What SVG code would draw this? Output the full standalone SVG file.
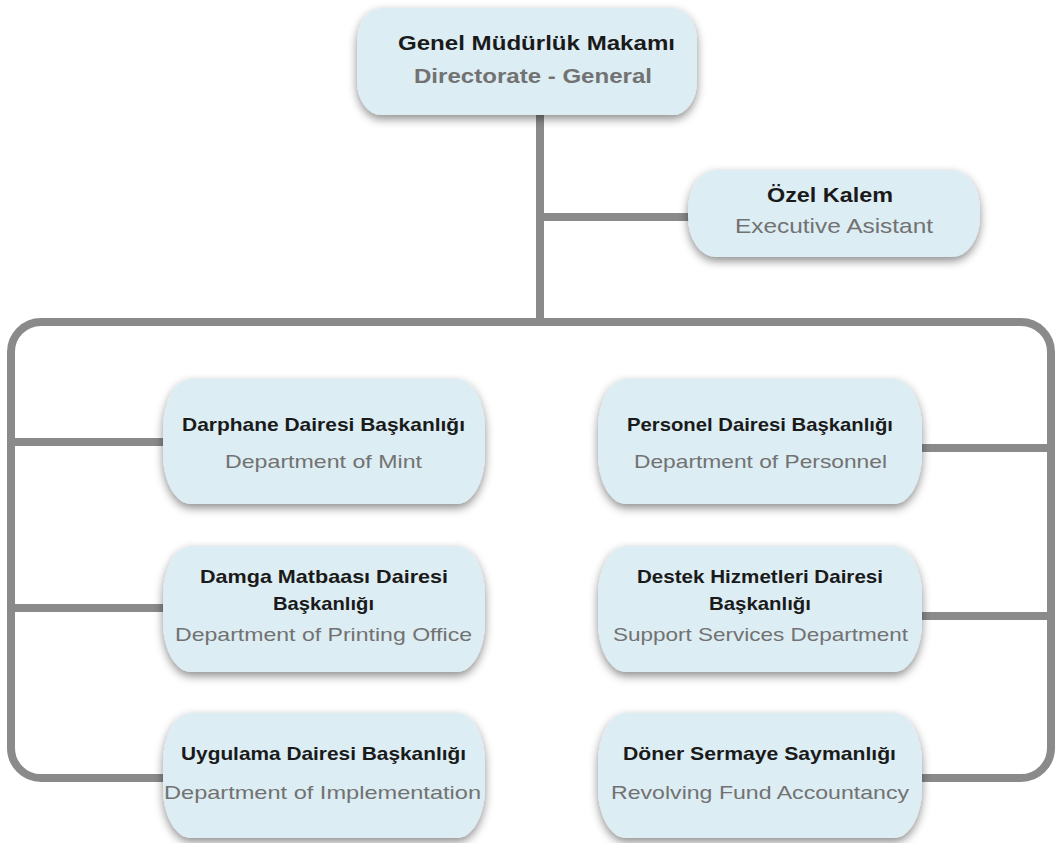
<svg xmlns="http://www.w3.org/2000/svg" width="1055" height="843" viewBox="0 0 1055 843">
<defs>
<filter id="sh" x="-20%" y="-30%" width="140%" height="170%">
<feDropShadow dx="0" dy="4" stdDeviation="5" flood-color="#000" flood-opacity="0.45"/>
</filter>
<style>
.box{fill:#dcedf3;filter:url(#sh)}
.ln{fill:none;stroke:#8a8a8a;stroke-width:8}
.t{font-family:"Liberation Sans",Arial,sans-serif;font-weight:bold;fill:#1a1a1a;text-anchor:middle;font-size:19px}
.s{font-family:"Liberation Sans",Arial,sans-serif;fill:#727272;text-anchor:middle;font-size:19px}
.tb{font-size:21px}
.sb{font-size:21px;font-weight:bold}
</style>
</defs>
<rect width="1055" height="843" fill="#ffffff"/>
<g id="connectors">
<line class="ln" x1="540" y1="110" x2="540" y2="322"/>
<line class="ln" x1="540" y1="217" x2="690" y2="217"/>
<path class="ln" d="M 165 778 H 41 A 30 30 0 0 1 11 748 V 352 A 30 30 0 0 1 41 322 H 1021 A 30 30 0 0 1 1051 352 V 748 A 30 30 0 0 1 1021 778 H 920"/>
<line class="ln" x1="11" y1="442" x2="165" y2="442"/>
<line class="ln" x1="11" y1="608" x2="165" y2="608"/>
<line class="ln" x1="920" y1="448" x2="1051" y2="448"/>
<line class="ln" x1="920" y1="616" x2="1051" y2="616"/>
</g>
<g id="n-genel">
<rect class="box" x="357" y="8" width="340" height="107" rx="24" ry="34"/>
<text class="t tb" x="536.5" y="50" textLength="277" lengthAdjust="spacingAndGlyphs">Genel Müdürlük Makamı</text>
<text class="s sb" x="533" y="83" textLength="238" lengthAdjust="spacingAndGlyphs">Directorate - General</text>
</g>
<g id="n-ozel">
<rect class="box" x="688" y="170" width="292" height="87" rx="28" ry="40"/>
<text class="t tb" x="830" y="202" textLength="126" lengthAdjust="spacingAndGlyphs">Özel Kalem</text>
<text class="s" x="834" y="233" style="font-size:21px" textLength="198" lengthAdjust="spacingAndGlyphs">Executive Asistant</text>
</g>
<g id="n-darphane">
<rect class="box" x="163" y="379" width="322" height="125" rx="28" ry="50"/>
<text class="t" x="323.5" y="431" textLength="283" lengthAdjust="spacingAndGlyphs">Darphane Dairesi Başkanlığı</text>
<text class="s" x="323.5" y="468" textLength="197" lengthAdjust="spacingAndGlyphs">Department of Mint</text>
</g>
<g id="n-damga">
<rect class="box" x="163" y="546" width="322" height="126" rx="28" ry="50"/>
<text class="t" x="324" y="583" textLength="248" lengthAdjust="spacingAndGlyphs">Damga Matbaası Dairesi</text>
<text class="t" x="323.5" y="610" textLength="101" lengthAdjust="spacingAndGlyphs">Başkanlığı</text>
<text class="s" x="323.5" y="641" textLength="297" lengthAdjust="spacingAndGlyphs">Department of Printing Office</text>
</g>
<g id="n-uygulama">
<rect class="box" x="163" y="713" width="322" height="125" rx="28" ry="50"/>
<text class="t" x="323.5" y="760" textLength="285" lengthAdjust="spacingAndGlyphs">Uygulama Dairesi Başkanlığı</text>
<text class="s" x="322.5" y="799" textLength="317" lengthAdjust="spacingAndGlyphs">Department of Implementation</text>
</g>
<g id="n-personel">
<rect class="box" x="598" y="379" width="324" height="125" rx="28" ry="50"/>
<text class="t" x="760" y="431" textLength="266" lengthAdjust="spacingAndGlyphs">Personel Dairesi Başkanlığı</text>
<text class="s" x="760.5" y="468" textLength="253" lengthAdjust="spacingAndGlyphs">Department of Personnel</text>
</g>
<g id="n-destek">
<rect class="box" x="598" y="546" width="324" height="126" rx="28" ry="50"/>
<text class="t" x="760" y="583" textLength="246" lengthAdjust="spacingAndGlyphs">Destek Hizmetleri Dairesi</text>
<text class="t" x="760" y="610" textLength="102" lengthAdjust="spacingAndGlyphs">Başkanlığı</text>
<text class="s" x="760.5" y="641" textLength="295" lengthAdjust="spacingAndGlyphs">Support Services Department</text>
</g>
<g id="n-doner">
<rect class="box" x="598" y="713" width="324" height="125" rx="28" ry="50"/>
<text class="t" x="759.5" y="760" textLength="273" lengthAdjust="spacingAndGlyphs">Döner Sermaye Saymanlığı</text>
<text class="s" x="760" y="799" textLength="298" lengthAdjust="spacingAndGlyphs">Revolving Fund Accountancy</text>
</g>
</svg>
